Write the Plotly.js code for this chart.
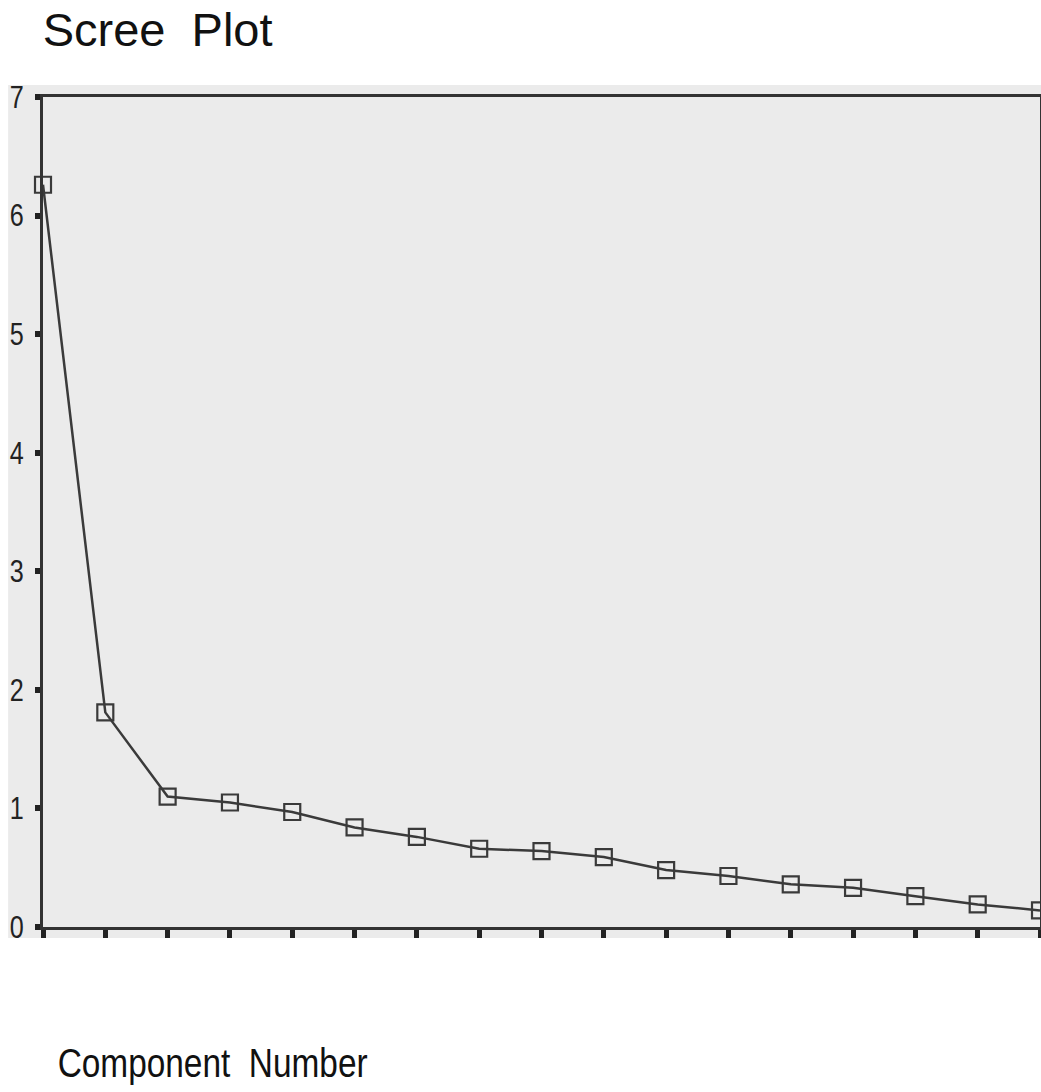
<!DOCTYPE html>
<html>
<head>
<meta charset="utf-8">
<script src="https://cdn.plot.ly/plotly-3.0.1.min.js"></script>
<style>
  html, body { margin: 0; padding: 0; background: #ffffff; }
  #chart { width: 1041px; height: 1092px; }
</style>
</head>
<body>
<div id="chart"></div>
<script>
// Component numbers and eigenvalues
const components = [1, 2, 3, 4, 5, 6, 7, 8, 9, 10, 11, 12, 13, 14, 15, 16, 17];
const eigenvalues = [6.26, 1.81, 1.10, 1.05, 0.97, 0.84, 0.76, 0.66, 0.64, 0.59, 0.48, 0.43, 0.36, 0.33, 0.26, 0.19, 0.14];
const yTicks = [0, 1, 2, 3, 4, 5, 6, 7];
const titleText = 'Scree\u00a0 Plot';
const xTitleText = 'Component\u00a0 Number';

const sans = '"Liberation Sans", Arial, sans-serif';

const trace = {
  x: components,
  y: eigenvalues,
  type: 'scatter',
  mode: 'lines+markers',
  cliponaxis: false,
  line: { color: '#3a3a3a', width: 2.5 },
  marker: { symbol: 'square-open', size: 16, color: '#3a3a3a', line: { width: 2.2, color: '#3a3a3a' } },
  hoverinfo: 'x+y'
};

const layout = {
  width: 1041,
  height: 1092,
  margin: { l: 43, r: 1, t: 97, b: 165 },
  paper_bgcolor: '#ffffff',
  plot_bgcolor: 'rgba(0,0,0,0)',
  showlegend: false,
  title: {
    text: titleText,
    font: { family: sans, size: 47, color: '#111111' },
    xref: 'container', x: 0.041, xanchor: 'left',
    yref: 'container', y: 1 - 30 / 1092, yanchor: 'middle'
  },
  xaxis: {
    range: [1, 17],
    tickvals: components,
    showticklabels: false,
    ticks: 'outside', ticklen: 8, tickwidth: 5, tickcolor: '#222222',
    showline: true, linecolor: '#333333', linewidth: 3, mirror: true,
    showgrid: false, zeroline: false, fixedrange: true
  },
  yaxis: {
    range: [0, 7],
    tickvals: yTicks,
    ticktext: yTicks.map(String),
    ticks: 'outside', ticklen: 5, tickwidth: 6, tickcolor: '#222222',
    ticklabelstandoff: 5,
    tickfont: { family: sans, size: 31, color: '#222222' },
    showline: true, linecolor: '#333333', linewidth: 3, mirror: true,
    showgrid: false, zeroline: false, fixedrange: true
  },
  shapes: [{
    type: 'rect', layer: 'below',
    xref: 'paper', yref: 'paper',
    x0: -0.035, x1: 1.002, y0: -0.0133, y1: 1.0145,
    fillcolor: '#ebebeb', line: { width: 0 }
  }],
  annotations: [{
    text: xTitleText,
    xref: 'paper', yref: 'paper',
    x: 0.1705, xanchor: 'center',
    y: -0.164, yanchor: 'middle',
    showarrow: false,
    font: { family: sans, size: 40, color: '#111111' }
  }]
};

Plotly.newPlot('chart', [trace], layout, { displayModeBar: false, staticPlot: true }).then(function (gd) {
  // The reference uses a condensed face for the axis title: narrow the real text to its width.
  const t = gd.querySelector('.annotation-text');
  if (t) {
    t.setAttribute('textLength', '310');
    t.setAttribute('lengthAdjust', 'spacingAndGlyphs');
  }
  gd.querySelectorAll('.ytick text').forEach(function (el) {
    el.setAttribute('textLength', '14');
    el.setAttribute('lengthAdjust', 'spacingAndGlyphs');
  });
});
</script>
</body>
</html>
